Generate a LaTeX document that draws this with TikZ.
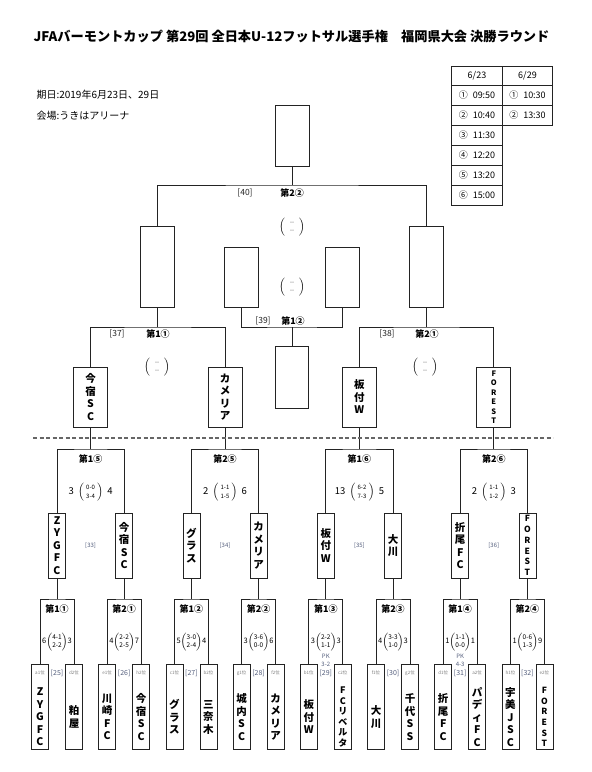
\documentclass[tikz,border=0pt]{standalone}
\usepackage{fontspec}
\setmainfont{Noto Sans CJK JP}
\usepackage{tikz}
\usetikzlibrary{positioning, calc}
\definecolor{numgray}{RGB}{85, 95, 125}
\definecolor{rankgray}{RGB}{125, 125, 125}
\definecolor{inkblack}{RGB}{35, 35, 35}

\newcommand{\scoreA}[4]{#1$\left(\vcenter{\hbox{\fontsize{6.5}{7.7}\selectfont\begin{tabular}{@{}c@{}}#2\\#3\end{tabular}}}\right)$#4}
\newcommand{\scoreB}[4]{#1\ \ $\left(\ \vcenter{\hbox{\fontsize{6}{9}\selectfont\begin{tabular}{@{}c@{}}#2\\#3\end{tabular}}}\ \right)$\ \ #4}
\newcommand{\blanksc}{$\left(\ \ \vcenter{\hbox{\fontsize{5}{7.5}\selectfont\color{rankgray}\begin{tabular}{@{}c@{}}ー\\ー\end{tabular}}}\ \ \right)$}

\begin{document}
\begin{tikzpicture}[x=1pt, y=-1pt,
  wire/.style={draw=inkblack, line width=0.8pt},
  slot/.style={draw=inkblack, line width=0.8pt, minimum width=17pt, inner sep=0pt},
  tm/.style={align=center, inner sep=0pt, font=\fontsize{10.5}{12.5}\selectfont\bfseries},
  tmnarrow/.style={tm, font=\fontsize{9}{10.5}\selectfont\bfseries},
  tmsmall/.style={tm, font=\fontsize{8.5}{10.7}\selectfont\bfseries},
  tmtiny/.style={tm, font=\fontsize{7.5}{9.5}\selectfont\bfseries},
  rnd/.style={inner sep=0pt, font=\fontsize{9}{10}\selectfont\bfseries},
  lbl/.style={inner sep=0pt, text=inkblack, font=\fontsize{8.5}{10}\selectfont},
  mnum/.style={inner sep=0pt, text=numgray, font=\fontsize{6}{7}\selectfont},
  msmall/.style={inner sep=0pt, text=numgray, font=\fontsize{7}{8}\selectfont},
  rank/.style={inner sep=0pt, text=rankgray, font=\fontsize{4.5}{5}\selectfont},
  scsmall/.style={inner sep=0pt, font=\fontsize{7.5}{9}\selectfont},
  scbig/.style={inner sep=0pt, font=\fontsize{9.5}{11}\selectfont},
  cell/.style={draw=inkblack, line width=0.8pt, minimum width=50.5pt, minimum height=20pt,
               inner sep=0pt, font=\fontsize{9}{10}\selectfont}]
  \useasboundingbox (0,0) rectangle (592,772);

  % heading
  \node[font=\fontsize{13.2}{15}\selectfont\bfseries] (title) at (291.5,36)
    {JFAバーモントカップ 第29回 全日本U-12フットサル選手権　福岡県大会 決勝ラウンド};
  \node[anchor=west, font=\fontsize{10}{12}\selectfont] (date) at (33,95) {期日:2019年6月23日、29日};
  \node[anchor=west, font=\fontsize{10}{12}\selectfont] (venue) at (33,116) {会場:うきはアリーナ};

  % kick-off times
  \node[cell, minimum height=19pt] (d623) at (477,75.5) {6/23};
  \node[cell, minimum height=19pt] (d629) at (527.5,75.5) {6/29};
  \foreach \c/\t [count=\i] in {①/09:50, ②/10:40, ③/11:30, ④/12:20, ⑤/13:20, ⑥/15:00}
    \node[cell] (ka\i) at (477,{95+20*(\i-1)}) {\c\hspace{5pt}\t};
  \node[cell] (kb1) at (527.5,95) {①\hspace{5pt}10:30};
  \node[cell] (kb2) at (527.5,115) {②\hspace{5pt}13:30};

  % block qualifiers
  \foreach \x/\rk/\team/\sty in {
    40/a1/{Z\\Y\\G\\F\\C}/tm,
    74/d2/{粕\\屋}/tm,
    107.2/e1/{川\\崎\\F\\C}/tm,
    141.2/h2/{今\\宿\\S\\C}/tm,
    174.4/c1/{グ\\ラ\\ス}/tm,
    208.4/b2/{三\\奈\\木}/tm,
    241.6/g1/{城\\内\\S\\C}/tm,
    275.6/f2/{カ\\メ\\リ\\ア}/tm,
    308.8/b1/{板\\付\\W}/tm,
    342.8/c2/{F\\C\\リ\\ベ\\ル\\タ}/tmnarrow,
    376/f1/{大\\川}/tm,
    410/g2/{千\\代\\S\\S}/tm,
    443.2/d1/{折\\尾\\F\\C}/tm,
    477.2/a2/{パ\\デ\\ィ\\F\\C}/tm,
    510.4/h1/{宇\\美\\J\\S\\C}/tm,
    544.4/e2/{F\\O\\R\\E\\S\\T}/tmsmall}{
    \node[slot, minimum height=85pt] (\rk) at (\x,706.5) {};
    \node[rank] (rk\rk) at (\x,673) {\rk 位};
    \node[\sty] (nm\rk) at (\x,717) {\team};
  }

  % first round [25]-[32]
  \foreach \n/\l/\r/\m/\lab/\ga/\gb/\gc/\gd in {
    25/a1/d2/57/第1①/6/4-1/2-2/3,
    26/e1/h2/124.2/第2①/4/2-2/2-5/7,
    27/c1/b2/191.4/第1②/5/3-0/2-4/4,
    28/g1/f2/258.6/第2②/3/3-6/0-0/6,
    29/b1/c2/325.8/第1③/3/2-2/1-1/3,
    30/f1/g2/393/第2③/4/3-3/1-0/3,
    31/d1/a2/460.2/第1④/1/1-1/0-0/1,
    32/h1/e2/527.4/第2④/1/0-6/1-3/9}{
    \coordinate (j\n) at (\m,599);
    \draw[wire] (\l.north) |- (j\n) -| (\r.north);
    \node[rnd] (rd\n) at (\m,609) {\lab};
    \node[scsmall] (sc\n) at (\m,642) {\scoreA{\ga}{\gb}{\gc}{\gd}};
    \node[msmall] (mn\n) at (\m,673) {[\n]};
  }
  \node[mnum] (pk29) at (325.8,656) {PK};
  \node[mnum] (pr29) at (325.8,664) {3-2};
  \node[mnum] (pk31) at (460.2,656) {PK};
  \node[mnum] (pr31) at (460.2,664) {4-3};

  % first round winners
  \foreach \n/\m/\team/\sty in {
    25/57/{Z\\Y\\G\\F\\C}/tm,
    26/124.2/{今\\宿\\S\\C}/tm,
    27/191.4/{グ\\ラ\\ス}/tm,
    28/258.6/{カ\\メ\\リ\\ア}/tm,
    29/325.8/{板\\付\\W}/tm,
    30/393/{大\\川}/tm,
    31/460.2/{折\\尾\\F\\C}/tm,
    32/527.4/{F\\O\\R\\E\\S\\T}/tmsmall}{
    \node[slot, \sty, minimum height=65pt] (w\n) at (\m,545.5) {\team};
    \draw[wire] (j\n) -- (w\n.south);
  }

  % second round [33]-[36]
  \foreach \n/\l/\r/\m/\lab/\ga/\gb/\gc/\gd in {
    33/25/26/90.6/第1⑤/3/0-0/3-4/4,
    34/27/28/225/第2⑤/2/1-1/1-5/6,
    35/29/30/359.4/第1⑥/13/6-2/7-3/5,
    36/31/32/493.8/第2⑥/2/1-1/1-2/3}{
    \coordinate (j\n) at (\m,449);
    \draw[wire] (w\l.north) |- (j\n) -| (w\r.north);
    \node[rnd] (rd\n) at (\m,459) {\lab};
    \node[scbig] (sc\n) at (\m,492) {\scoreB{\ga}{\gb}{\gc}{\gd}};
    \node[mnum] (mn\n) at (\m,546) {[\n]};
  }
  \foreach \n/\m/\team/\sty in {
    33/90.6/{今\\宿\\S\\C}/tm,
    34/225/{カ\\メ\\リ\\ア}/tm,
    35/359.4/{板\\付\\W}/tm,
    36/493.8/{F\\O\\R\\E\\S\\T}/tmtiny}{
    \node[slot, \sty, minimum width=34pt, minimum height=60pt] (w\n) at (\m,397) {\team};
    \draw[wire] (j\n) -- (w\n.south);
  }

  % day one / day two
  \draw[draw=black!60, line width=1.2pt, dash pattern=on 4pt off 2.5pt] (33,438) -- (553,438);

  % semifinals [37], [38]
  \node[slot, minimum width=34pt, minimum height=81pt] (w37) at (157.8,266.5) {};
  \node[slot, minimum width=34pt, minimum height=81pt] (w38) at (426.6,266.5) {};
  \coordinate (j37) at (157.8,327);
  \coordinate (j38) at (426.6,327);
  \draw[wire] (w33.north) |- (j37) -| (w34.north);
  \draw[wire] (w35.north) |- (j38) -| (w36.north);
  \draw[wire] (j37) -- (w37.south);
  \draw[wire] (j38) -- (w38.south);
  \node[lbl] (mn37) at (117,334) {[37]};
  \node[rnd] (rd37) at (158,334) {第1①};
  \node (bl37) at (157,367) {\blanksc};
  \node[lbl] (mn38) at (387,334) {[38]};
  \node[rnd] (rd38) at (427,334) {第2①};
  \node (bl38) at (425,367) {\blanksc};

  % third place [39]
  \node[slot, minimum width=34pt, minimum height=60pt] (l37) at (241.5,277) {};
  \node[slot, minimum width=34pt, minimum height=60pt] (l38) at (342.5,277) {};
  \coordinate (j39) at (292.2,327);
  \draw[wire] (l37.south) |- (j39) -| (l38.south);
  \node[slot, minimum width=33pt, minimum height=62pt] (w39) at (292.2,377) {};
  \draw[wire] (j39) -- (w39.north);
  \node[lbl] (mn39) at (263,321) {[39]};
  \node[rnd] (rd39) at (293,321) {第1②};
  \node (bl39) at (292,287) {\blanksc};

  % final [40]
  \node[slot, minimum width=34pt, minimum height=61pt] (w40) at (292.2,135.5) {};
  \coordinate (j40) at (292.2,185);
  \draw[wire] (w37.north) |- (j40) -| (w38.north);
  \draw[wire] (j40) -- (w40.south);
  \node[lbl] (mn40) at (245,193) {[40]};
  \node[rnd] (rd40) at (292.2,193) {第2②};
  \node (bl40) at (292,227) {\blanksc};
\end{tikzpicture}
\end{document}
